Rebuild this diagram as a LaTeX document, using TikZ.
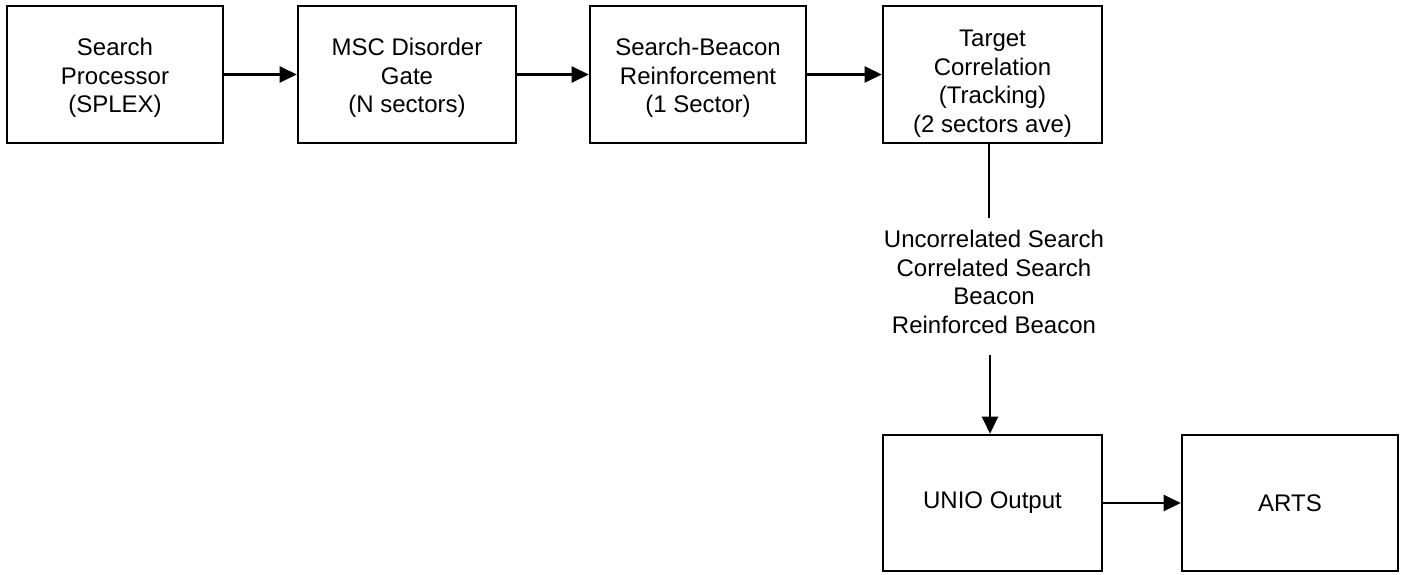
\documentclass[tikz,border=0pt]{standalone}
\usepackage{fontspec}
\setmainfont{Liberation Sans}
\usetikzlibrary{arrows.meta}
\newcommand{\lowerby}[1]{\rule{0pt}{#1}}
\begin{document}
\begin{tikzpicture}[x=1pt,y=-1pt,
  blk/.style={draw, line width=2.6pt, minimum height=137pt, inner sep=0pt, align=center,
    font=\fontsize{24}{28.5}\selectfont},
  conn/.style={line width=2.4pt, -{Triangle[length=17pt,width=16pt]}},
  plain/.style={line width=2.4pt},
  lbl/.style={align=center, inner sep=0pt, font=\fontsize{24}{28.5}\selectfont}]
\useasboundingbox (0,0) rectangle (1409,575);
\node[blk, minimum width=216pt] (sp) at (115,74.5) {\lowerby{24pt}Search\\Processor\\(SPLEX)};
\node[blk, minimum width=218pt] (msc) at (407,74.5) {\lowerby{24pt}MSC Disorder\\Gate\\(N sectors)};
\node[blk, minimum width=216pt] (sbr) at (698,74.5) {\lowerby{24pt}Search-Beacon\\Reinforcement\\(1 Sector)};
\node[blk, minimum width=219pt] (tc) at (992.5,74.5) {\lowerby{35pt}Target\\Correlation\\(Tracking)\\(2 sectors ave)};
\node[blk, minimum width=219pt, minimum height=136pt] (unio) at (992.5,503) {UNIO Output};
\node[blk, minimum width=216pt, minimum height=136pt] (arts) at (1290,503) {ARTS};
\node[lbl] (types) at (994,282) {Uncorrelated Search\\Correlated Search\\Beacon\\Reinforced Beacon};
\coordinate (c1) at (989,218);
\coordinate (c2) at (990,355);
\draw[conn] (sp) -- (msc);
\draw[conn] (msc) -- (sbr);
\draw[conn] (sbr) -- (tc);
\draw[plain] (c1 |- tc.south) -- (c1);
\draw[conn] (c2) -- (c2 |- unio.north);
\draw[conn] (unio) -- (arts);
\end{tikzpicture}
\end{document}
